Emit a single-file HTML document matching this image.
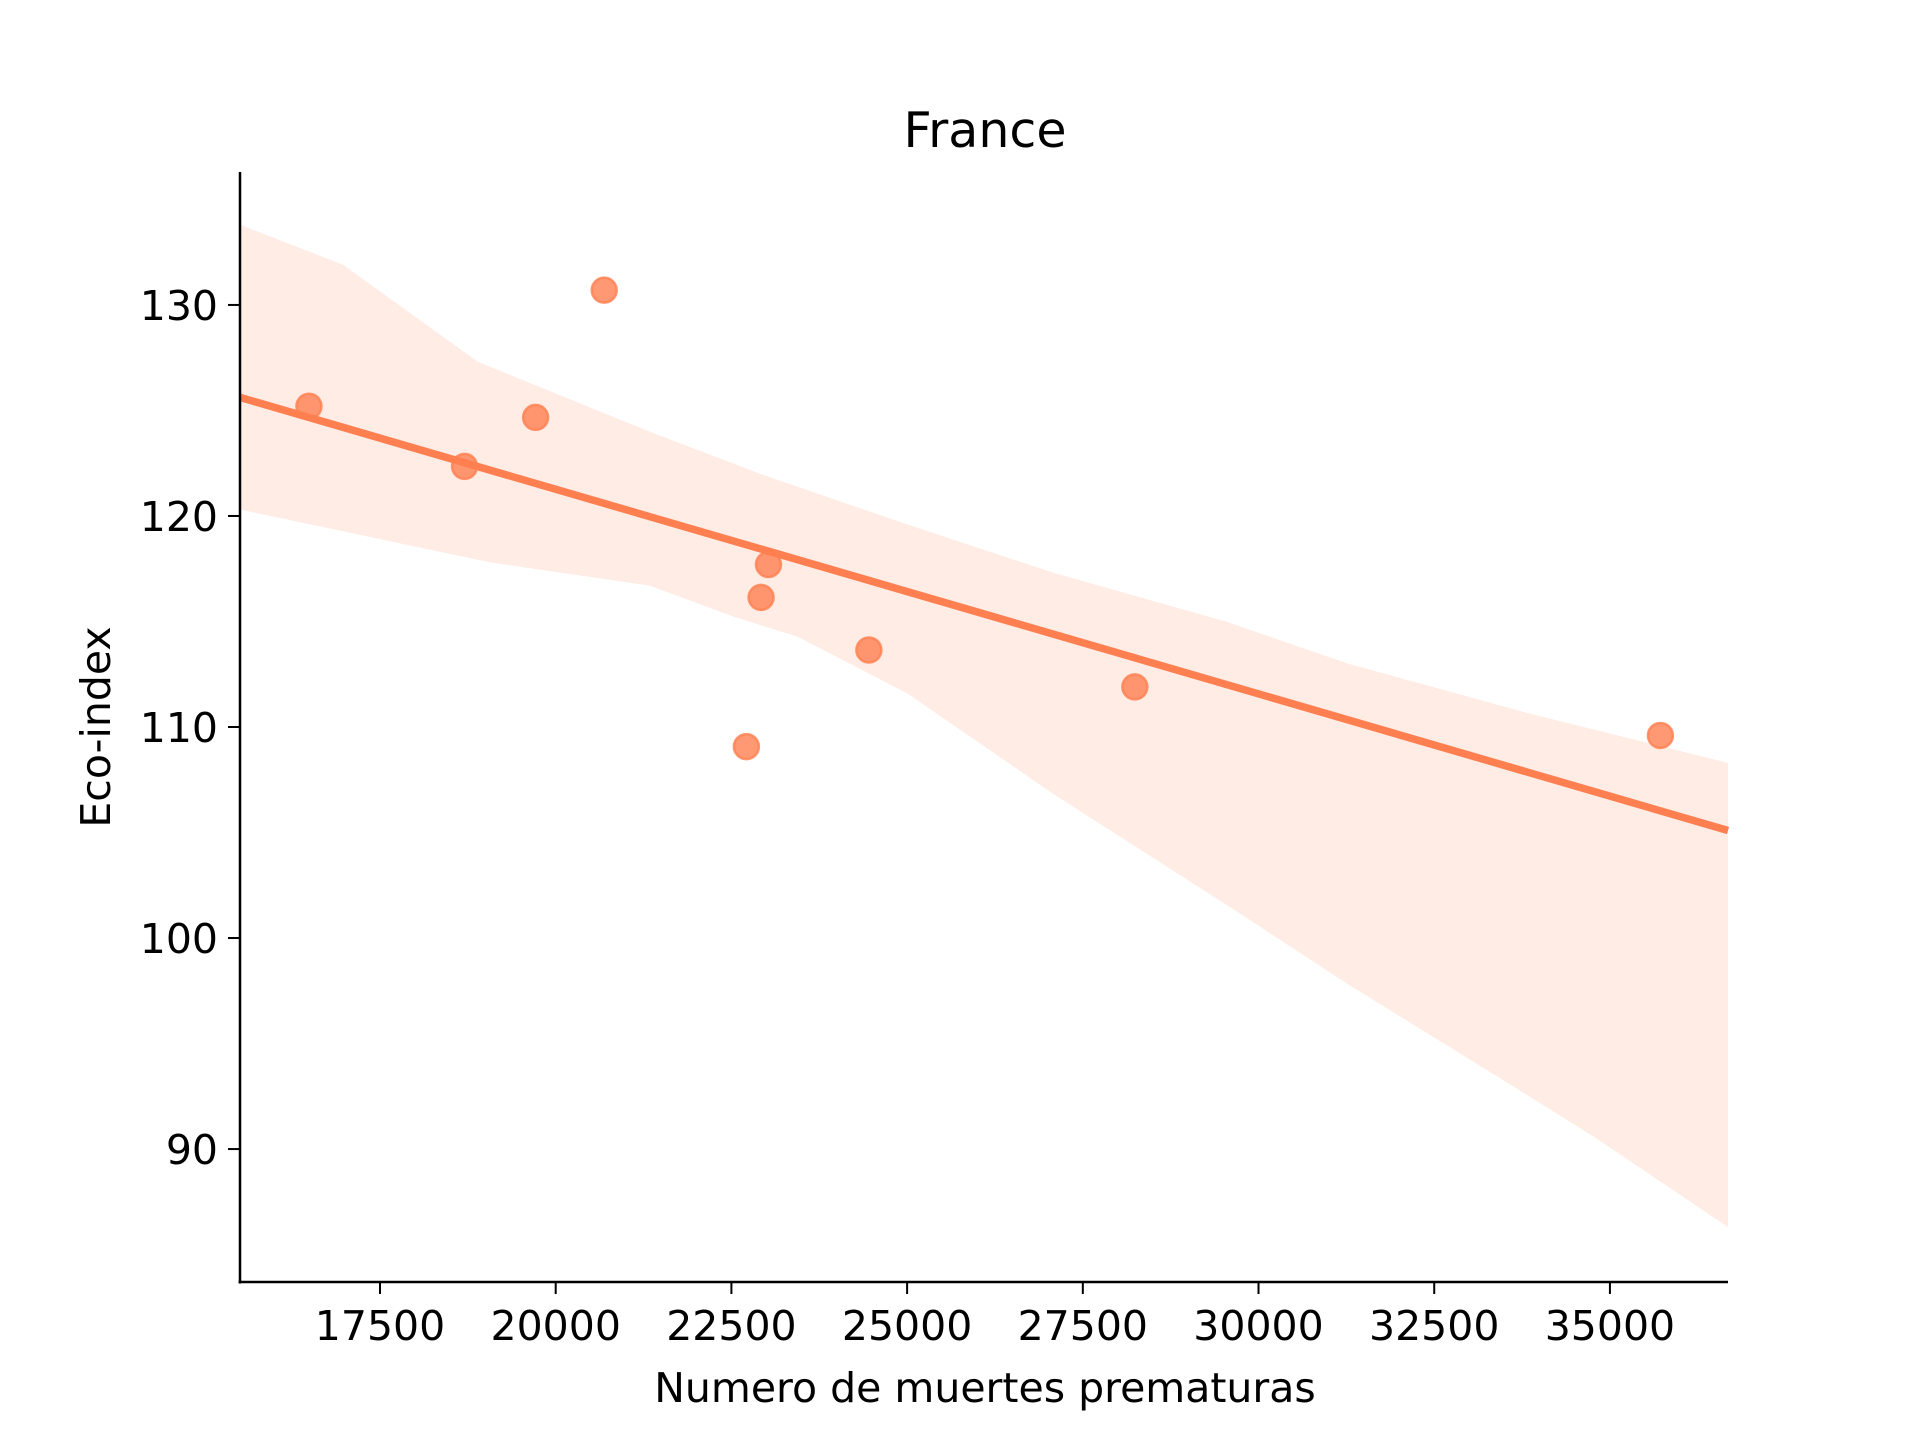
<!DOCTYPE html>
<html><head><meta charset="utf-8"><style>
html,body{margin:0;padding:0;background:#fff;}
svg{display:block;font-family:"DejaVu Sans","Liberation Sans",sans-serif;}
</style></head><body>
<svg id="chart" width="1920" height="1440" viewBox="0 0 1920 1440">
<rect width="1920" height="1440" fill="#fff"/>
<g id="band"></g>
<g id="line"></g>
<g id="points"></g>
<g id="axes"></g>
<text x="985" y="147" font-size="49" text-anchor="middle" fill="#000">France</text>
<text x="985" y="1402" font-size="41" text-anchor="middle" fill="#000">Numero de muertes prematuras</text>
<text x="0" y="0" font-size="41" text-anchor="middle" fill="#000" transform="translate(110,727) rotate(-90)">Eco-index</text>
</svg>
<script>
const xValues = [16489, 18703, 19714, 20690, 22713, 22922, 23027, 24456, 28240, 35718];
const yValues = [125.2, 122.35, 124.67, 130.7, 109.07, 116.14, 117.7, 113.65, 111.9, 109.6];
const bandUpperX = [15512, 16977, 18895, 21336, 22905, 25000, 27092, 29533, 31277, 33892, 36700];
const bandUpperY = [133.8, 131.9, 127.3, 124.0, 122.0, 119.6, 117.3, 115.0, 113.0, 110.6, 108.3];
const bandLowerX = [15512, 19069, 21336, 22556, 23428, 25000, 27092, 29533, 31277, 33369, 34764, 36700];
const bandLowerY = [120.3, 117.8, 116.7, 115.2, 114.3, 111.6, 106.8, 101.6, 97.8, 93.5, 90.6, 86.3];
const xTicks = [17500, 20000, 22500, 25000, 27500, 30000, 32500, 35000];
const yTicks = [90, 100, 110, 120, 130];
const xDomain = [15508, 36680];
const yDomain = [83.7, 136.3];

const L = 240, R = 1728, T = 172, B = 1282;
const NS = "http://www.w3.org/2000/svg";
function sx(v){ return L + (v - xDomain[0]) / (xDomain[1] - xDomain[0]) * (R - L); }
function sy(v){ return B - (v - yDomain[0]) / (yDomain[1] - yDomain[0]) * (B - T); }
function mk(tag, attrs, parent){ const e = document.createElementNS(NS, tag); for (const k in attrs) e.setAttribute(k, attrs[k]); parent.appendChild(e); return e; }

const n = xValues.length;
const mx = xValues.reduce((a,b)=>a+b,0)/n, my = yValues.reduce((a,b)=>a+b,0)/n;
let sxx = 0, sxy = 0;
for (let i=0;i<n;i++){ sxx += (xValues[i]-mx)**2; sxy += (xValues[i]-mx)*(yValues[i]-my); }
const slope = sxy/sxx, icpt = my - slope*mx;

const bandG = document.getElementById('band');
let pts = [];
for (let i=0;i<bandUpperX.length;i++) pts.push(sx(Math.min(Math.max(bandUpperX[i],xDomain[0]),xDomain[1])).toFixed(1)+','+sy(bandUpperY[i]).toFixed(1));
for (let i=bandLowerX.length-1;i>=0;i--) pts.push(sx(Math.min(Math.max(bandLowerX[i],xDomain[0]),xDomain[1])).toFixed(1)+','+sy(bandLowerY[i]).toFixed(1));
const band = mk('polygon', {points: pts.join(' '), fill:'#ff7f50', 'fill-opacity':0.15}, bandG);


const ln = mk('line', {x1:sx(xDomain[0]), y1:sy(icpt+slope*xDomain[0]), x2:sx(xDomain[1]), y2:sy(icpt+slope*xDomain[1]), stroke:'#ff7f50', 'stroke-width':7.5}, document.getElementById('line'));



const pg = document.getElementById('points');
for (let i=0;i<n;i++){
  const c = mk('circle', {cx:sx(xValues[i]), cy:sy(yValues[i]), r:12.5, fill:'#ff7f50', 'fill-opacity':0.8, stroke:'#ff7f50', 'stroke-opacity':0.8, 'stroke-width':2.5}, pg);
  
  
}

const ag = document.getElementById('axes');
const ys = mk('line', {x1:L, y1:T, x2:L, y2:B+1.5, stroke:'#000', 'stroke-width':2.5}, ag);


const xs = mk('line', {x1:L-1.5, y1:B, x2:R, y2:B, stroke:'#000', 'stroke-width':2.5}, ag);


xTicks.forEach(t => {
  const x = sx(t);
  const tk = mk('line', {x1:x, y1:B, x2:x, y2:B+12, stroke:'#000', 'stroke-width':2}, ag);
  
  
  const tx = mk('text', {x:x, y:B+58, 'font-size':41, 'text-anchor':'middle', fill:'#000'}, ag);
  tx.textContent = t;
  
  
});
yTicks.forEach(t => {
  const y = sy(t);
  const tk = mk('line', {x1:L-12, y1:y, x2:L, y2:y, stroke:'#000', 'stroke-width':2}, ag);
  
  
  const tx = mk('text', {x:L-22, y:y+15, 'font-size':41, 'text-anchor':'end', fill:'#000'}, ag);
  tx.textContent = t;
  
  
});
</script>
</body></html>
